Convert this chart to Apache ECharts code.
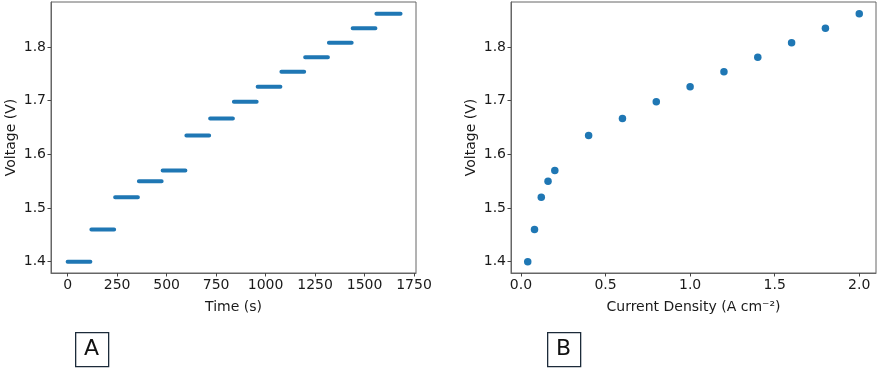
<!DOCTYPE html>
<html>
<head>
<meta charset="utf-8">
<script src="https://cdn.jsdelivr.net/npm/echarts@6/dist/echarts.min.js"></script>
<style>
  html, body { margin: 0; padding: 0; background: #fff; }
  #main { width: 879px; height: 369px; }
</style>
</head>
<body>
<div id="main"></div>
<script>
// panel A: voltage steps held over time
let stepStart = [0, 120, 240, 360, 480, 600, 720, 840, 960, 1080, 1200, 1320, 1440, 1560];
let stepEnd = [115, 235, 355, 475, 595, 715, 835, 955, 1075, 1195, 1315, 1435, 1555, 1682];
let stepVoltage = [1.40, 1.46, 1.52, 1.55, 1.57, 1.635, 1.667, 1.698, 1.726, 1.754, 1.781, 1.808, 1.835, 1.862];
// panel B: polarisation curve
let currentDensity = [0.04, 0.08, 0.12, 0.16, 0.2, 0.4, 0.6, 0.8, 1.0, 1.2, 1.4, 1.6, 1.8, 2.0];
let voltageB = [1.40, 1.46, 1.52, 1.55, 1.57, 1.635, 1.667, 1.698, 1.726, 1.754, 1.781, 1.808, 1.835, 1.862];
// tick labels
let timeTicks = [0, 250, 500, 750, 1000, 1250, 1500, 1750];
let densityTicks = [0, 0.5, 1.0, 1.5, 2.0];
let voltageTicks = [1.4, 1.5, 1.6, 1.7, 1.8];

let blue = '#1f77b4';
let font = 'DejaVu Sans';

let stepData = [];
for (let i = 0; i < stepStart.length; i++) {
  stepData.push([stepStart[i], stepVoltage[i]]);
  stepData.push([stepEnd[i], stepVoltage[i]]);
  stepData.push(null);
}
let scatterData = [];
for (let i = 0; i < currentDensity.length; i++) {
  scatterData.push([currentDensity[i], voltageB[i]]);
}

function makeAxis(extra, ticks, digits) {
  return Object.assign({
    type: 'value',
    splitLine: {show: false},
    axisLine: {show: true, onZero: false, lineStyle: {color: '#666', width: 1}},
    axisTick: {show: true, length: 3.5, customValues: ticks, lineStyle: {color: '#444'}},
    axisLabel: {
      color: '#1a1a1a', fontSize: 14, fontFamily: font, margin: 5,
      customValues: ticks,
      formatter: function (v) { return digits ? v.toFixed(digits) : String(v); }
    },
    nameTextStyle: {color: '#1a1a1a', fontSize: 14, fontFamily: font},
    nameLocation: 'middle'
  }, extra);
}

let myChart = echarts.init(document.getElementById('main'));
let option = {
  backgroundColor: '#fff',
  animation: false,
  grid: [
    {left: 51, top: 2, width: 365, height: 271, show: true, borderColor: '#666', borderWidth: 1},
    {left: 511, top: 2, width: 365, height: 271, show: true, borderColor: '#666', borderWidth: 1}
  ],
  xAxis: [
    makeAxis({gridIndex: 0, min: -84, max: 1760, name: 'Time (s)', nameGap: 27}, timeTicks, 0),
    makeAxis({gridIndex: 1, min: -0.059, max: 2.099, name: 'Current Density (A cm\u207B\u00B2)', nameGap: 27}, densityTicks, 1)
  ],
  yAxis: [
    makeAxis({gridIndex: 0, min: 1.379, max: 1.884, name: 'Voltage (V)', nameGap: 33}, voltageTicks, 1),
    makeAxis({gridIndex: 1, min: 1.379, max: 1.884, name: 'Voltage (V)', nameGap: 33}, voltageTicks, 1)
  ],
  series: [
    {
      name: 'steps',
      type: 'line',
      xAxisIndex: 0, yAxisIndex: 0,
      data: stepData,
      showSymbol: false,
      connectNulls: false,
      lineStyle: {color: blue, width: 4, cap: 'round'}
    },
    {
      name: 'polarisation',
      type: 'scatter',
      xAxisIndex: 1, yAxisIndex: 1,
      data: scatterData,
      symbolSize: 7.5,
      itemStyle: {color: blue, opacity: 1}
    }
  ],
  graphic: [
    {type: 'rect', left: 75, top: 332, shape: {width: 33, height: 34},
      style: {fill: '#fff', stroke: '#1c2b3a', lineWidth: 1.3}},
    {type: 'text', x: 91.5, y: 349.5, style: {text: 'A', font: '22px "DejaVu Sans"', fill: '#111', align: 'center', verticalAlign: 'middle'}},
    {type: 'rect', left: 547, top: 332, shape: {width: 33, height: 34},
      style: {fill: '#fff', stroke: '#1c2b3a', lineWidth: 1.3}},
    {type: 'text', x: 563.5, y: 349.5, style: {text: 'B', font: '22px "DejaVu Sans"', fill: '#111', align: 'center', verticalAlign: 'middle'}}
  ]
};
myChart.setOption(option);
</script>
</body>
</html>
